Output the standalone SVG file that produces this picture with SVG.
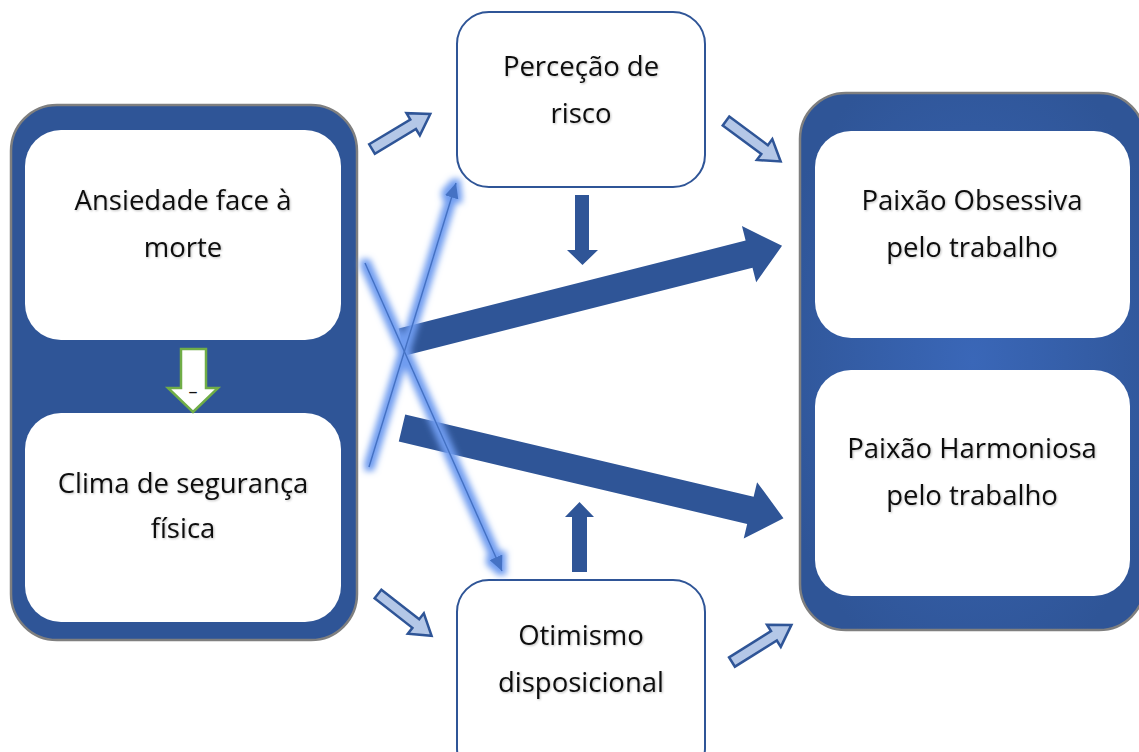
<svg xmlns="http://www.w3.org/2000/svg" width="1139" height="752" viewBox="0 0 1139 752">
<style>
.outer{fill:#2F5597;stroke:#7F7F7F;stroke-width:2.5}
.inner{fill:#FFFFFF}
.box{fill:#FFFFFF;stroke:#2F5597;stroke-width:2}
.lbl{font-family:"Open Sans","Noto Sans","Liberation Sans",sans-serif;font-size:27.5px;fill:#111111;text-anchor:middle}
.light{fill:#B4C7E7;stroke:#2F5597;stroke-width:2.5;stroke-linejoin:miter}
.dark{fill:#2F5597}
.thin{stroke:#4472C4;stroke-width:1.5;fill:none}
</style>
<defs>
<radialGradient id="rg" cx="50%" cy="50%" r="60%">
<stop offset="0" stop-color="#3A67B8"/>
<stop offset="1" stop-color="#2F5597"/>
</radialGradient>
<filter id="glow" x="-50%" y="-50%" width="200%" height="200%">
<feMorphology in="SourceAlpha" operator="dilate" radius="4" result="d"/>
<feGaussianBlur in="d" stdDeviation="3" result="b"/>
<feFlood flood-color="#6F9CF0" flood-opacity="1"/>
<feComposite in2="b" operator="in" result="g"/>
<feMerge><feMergeNode in="g"/><feMergeNode in="SourceGraphic"/></feMerge>
</filter>
<filter id="ts" x="-10%" y="-30%" width="120%" height="160%">
<feGaussianBlur in="SourceAlpha" stdDeviation="1"/>
<feOffset dx="1" dy="1" result="o"/>
<feFlood flood-color="#000" flood-opacity="0.25"/>
<feComposite in2="o" operator="in" result="s"/>
<feMerge><feMergeNode in="s"/><feMergeNode in="SourceGraphic"/></feMerge>
</filter>
<marker id="ah" markerUnits="userSpaceOnUse" markerWidth="16" markerHeight="14" refX="15" refY="7" orient="auto">
<path d="M0,0 L15,7 L0,14 Z" fill="#4472C4"/>
</marker>
<path id="la" d="M0,-5.5 L48,-5.5 L48,-13 L68,0 L48,13 L48,5.5 L0,5.5 Z"/>
<path id="ba" d="M0,-14 L358,-14 L358,-29 L392,0 L358,29 L358,14 L0,14 Z"/>
</defs>

<g id="left-group">
<rect class="outer" x="11" y="105" width="346" height="535" rx="46"/>
<g id="node-ansiedade">
<rect class="inner" x="25" y="130" width="316" height="210" rx="36"/>
<g filter="url(#ts)">
<text class="lbl" x="183" y="210">Ansiedade face à</text>
<text class="lbl" x="183" y="257">morte</text>
</g>
</g>
<g id="node-clima">
<rect class="inner" x="25" y="413" width="316" height="209" rx="36"/>
<g filter="url(#ts)">
<text class="lbl" x="183" y="493">Clima de segurança</text>
<text class="lbl" x="183" y="538">física</text>
</g>
</g>
<g id="green-arrow">
<path d="M181,349 L206,349 L206,388 L218,388 L193,412 L168,388 L181,388 Z" fill="#FFFFFF" stroke="#70AD47" stroke-width="2.5"/>
<text x="193" y="398" font-family="Open Sans, sans-serif" font-size="18" fill="#111" text-anchor="middle">–</text>
</g>
</g>

<g id="node-percecao">
<rect class="box" x="457" y="12" width="248" height="175" rx="32"/>
<g filter="url(#ts)">
<text class="lbl" x="581" y="76">Perceção de</text>
<text class="lbl" x="581" y="123">risco</text>
</g>
</g>

<g id="node-otimismo">
<rect class="box" x="457" y="580" width="248" height="200" rx="32"/>
<g filter="url(#ts)">
<text class="lbl" x="581" y="645">Otimismo</text>
<text class="lbl" x="581" y="692">disposicional</text>
</g>
</g>

<g id="right-group">
<rect x="800" y="93" width="345" height="537" rx="46" fill="url(#rg)" stroke="#7F7F7F" stroke-width="2.5"/>
<g id="node-obsessiva">
<rect class="inner" x="815" y="131" width="315" height="207" rx="36"/>
<g filter="url(#ts)">
<text class="lbl" x="972" y="210">Paixão Obsessiva</text>
<text class="lbl" x="972" y="257">pelo trabalho</text>
</g>
</g>
<g id="node-harmoniosa">
<rect class="inner" x="815" y="370" width="315" height="226" rx="36"/>
<g filter="url(#ts)">
<text class="lbl" x="972" y="458">Paixão Harmoniosa</text>
<text class="lbl" x="972" y="505">pelo trabalho</text>
</g>
</g>
</g>

<g id="connectors">
<use href="#la" class="light" transform="translate(372,149) rotate(-31)"/>
<use href="#la" class="light" transform="translate(726,121) rotate(36.5)"/>
<use href="#la" class="light" transform="translate(378,594) rotate(38)"/>
<use href="#la" class="light" transform="translate(732,662) rotate(-32) scale(1.03,1)"/>
<path class="dark" d="M575,195 L589,195 L589,250 L598,250 L582.5,265 L567,250 L575,250 Z"/>
<path class="dark" d="M572,572 L587,572 L587,517 L594,517 L579.5,502 L565,517 L572,517 Z"/>
<use href="#ba" class="dark" transform="translate(402,342) rotate(-14.2)"/>
<use href="#ba" class="dark" transform="translate(402,428) rotate(13.3)"/>
<g filter="url(#glow)">
<line class="thin" x1="369" y1="467" x2="456" y2="183" marker-end="url(#ah)"/>
<line class="thin" x1="365" y1="263" x2="502" y2="571" marker-end="url(#ah)"/>
</g>
</g>
</svg>
